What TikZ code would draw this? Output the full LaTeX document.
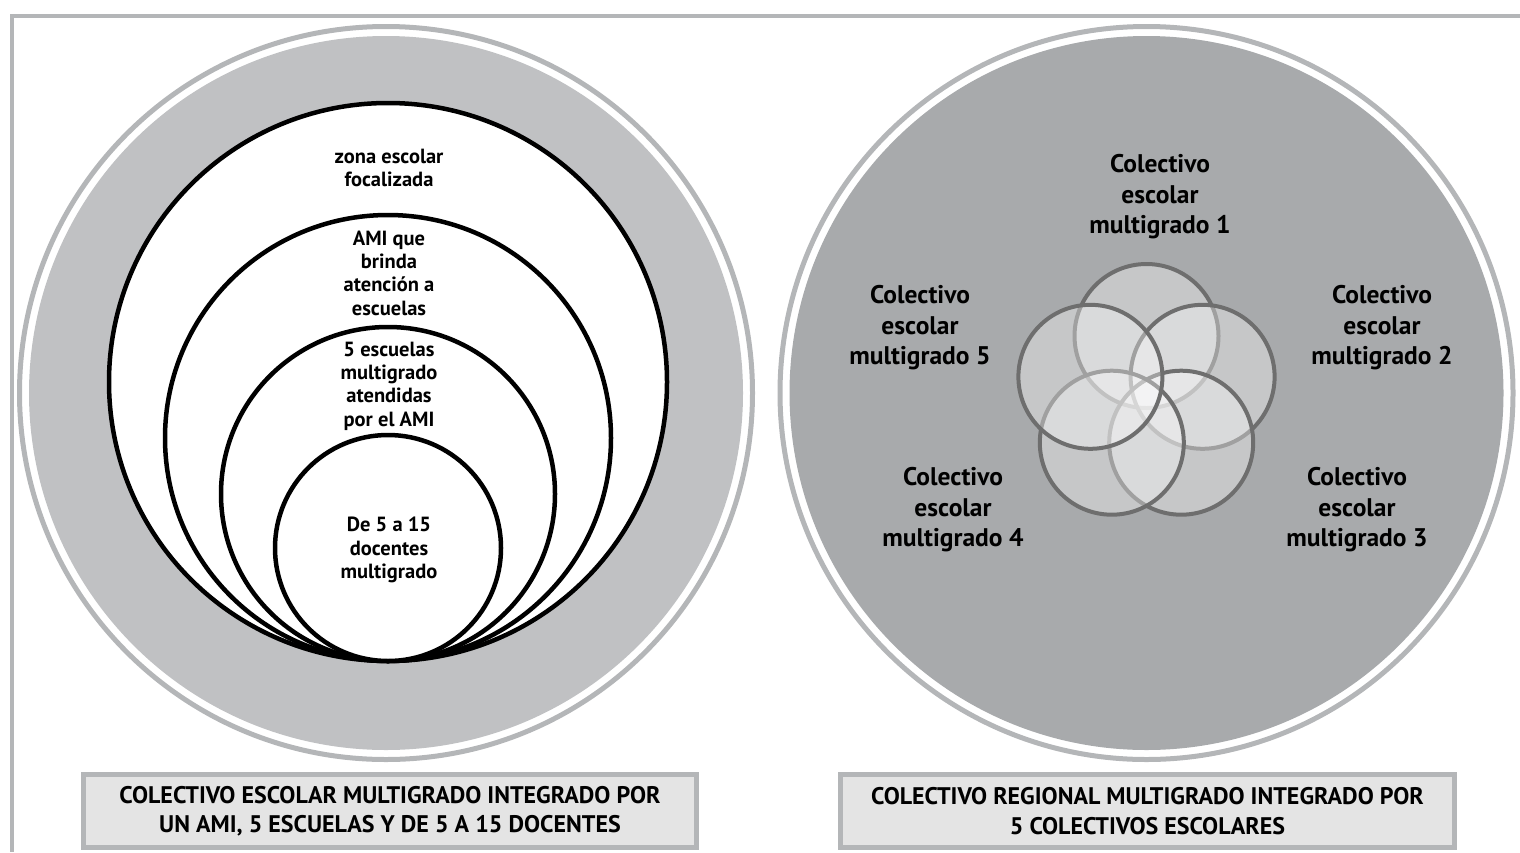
\documentclass[tikz,border=0pt]{standalone}
\usepackage{fontspec}
\setmainfont{PT Sans}
\usetikzlibrary{calc}
\definecolor{framegray}{HTML}{B4B6B8}
\definecolor{ringfill}{HTML}{C0C1C3}
\definecolor{rightfill}{HTML}{A8AAAC}
\definecolor{boxfill}{HTML}{E4E4E4}
\definecolor{venngray}{HTML}{6E6E6E}
\begin{document}
\begin{tikzpicture}[x=1pt,y=-1pt,
  outerring/.style={circle, draw=framegray, line width=5pt, inner sep=0pt, minimum size=733pt},
  disc/.style={circle, inner sep=0pt, minimum size=714pt},
  blackc/.style={circle, draw=black, line width=4.5pt, fill=white, inner sep=0pt},
  vennc/.style={circle, draw=venngray, line width=4pt, fill=white, fill opacity=0.35, draw opacity=1, inner sep=0pt, minimum size=144pt},
  ltxt/.style={align=center, font=\bfseries\fontsize{20.5}{23.3}\selectfont, inner sep=0pt},
  rtxt/.style={align=center, font=\bfseries\fontsize{25.5}{30.5}\selectfont, inner sep=0pt},
  labelbox/.style={draw=framegray, line width=5pt, fill=boxfill, inner sep=0pt, minimum height=73pt, align=center, font=\bfseries\fontsize{24}{29.5}\selectfont},
  frameline/.style={draw=framegray, line width=4pt}
]
\useasboundingbox (0,0) rectangle (1520,852);
% frame
\coordinate (fTL) at (12,15.5);
\coordinate (fTR) at (1520,15.5);
\coordinate (fBL) at (12,852);
\draw[frameline] (fTR) -- (fTL) -- (fBL);

% left big circle
\node[outerring] (Lout) at (386,393) {};
\node[disc, fill=ringfill] (Ldisc) at (386,393) {};
\node[blackc, minimum size=558pt] (c1) at (388,382) {};
\node[blackc, minimum size=446pt] (c2) at (388,438) {};
\node[blackc, minimum size=334pt] (c3) at (388,494) {};
\node[blackc, minimum size=226pt] (c4) at (388,548) {};
\node[ltxt] (t1) at (389,168) {zona escolar\\focalizada};
\node[ltxt] (t2) at (389,273) {AMI que\\brinda\\atención a\\escuelas};
\node[ltxt] (t3) at (389,386) {5 escuelas\\multigrado\\atendidas\\por el AMI};
\node[ltxt] (t4) at (389,550) {De 5 a 15\\docentes\\multigrado};

% right big circle
\node[outerring] (Rout) at (1146.5,393) {};
\node[disc, fill=rightfill] (Rdisc) at (1146.5,393) {};
\coordinate (vc) at (1146.5,395);
\node[vennc] (v1) at ($(vc)+(0,-59)$) {};
\node[vennc] (v2) at ($(vc)+(56.1,-18.2)$) {};
\node[vennc] (v3) at ($(vc)+(34.7,47.7)$) {};
\node[vennc] (v4) at ($(vc)+(-34.7,47.7)$) {};
\node[vennc] (v5) at ($(vc)+(-56.1,-18.2)$) {};
\node[rtxt] (r1) at (1160,197) {Colectivo\\escolar\\multigrado 1};
\node[rtxt] (r2) at (1382,328) {Colectivo\\escolar\\multigrado 2};
\node[rtxt] (r3) at (1357,510) {Colectivo\\escolar\\multigrado 3};
\node[rtxt] (r4) at (953,510) {Colectivo\\escolar\\multigrado 4};
\node[rtxt] (r5) at (920,328) {Colectivo\\escolar\\multigrado 5};

% labels
\node[labelbox, minimum width=613pt] (lb1) at (390,811) {COLECTIVO ESCOLAR MULTIGRADO INTEGRADO POR\\UN AMI, 5 ESCUELAS Y DE 5 A 15 DOCENTES};
\node[labelbox, minimum width=614pt] (lb2) at (1147.5,811) {COLECTIVO REGIONAL MULTIGRADO INTEGRADO POR\\5 COLECTIVOS ESCOLARES};
\end{tikzpicture}
\end{document}
